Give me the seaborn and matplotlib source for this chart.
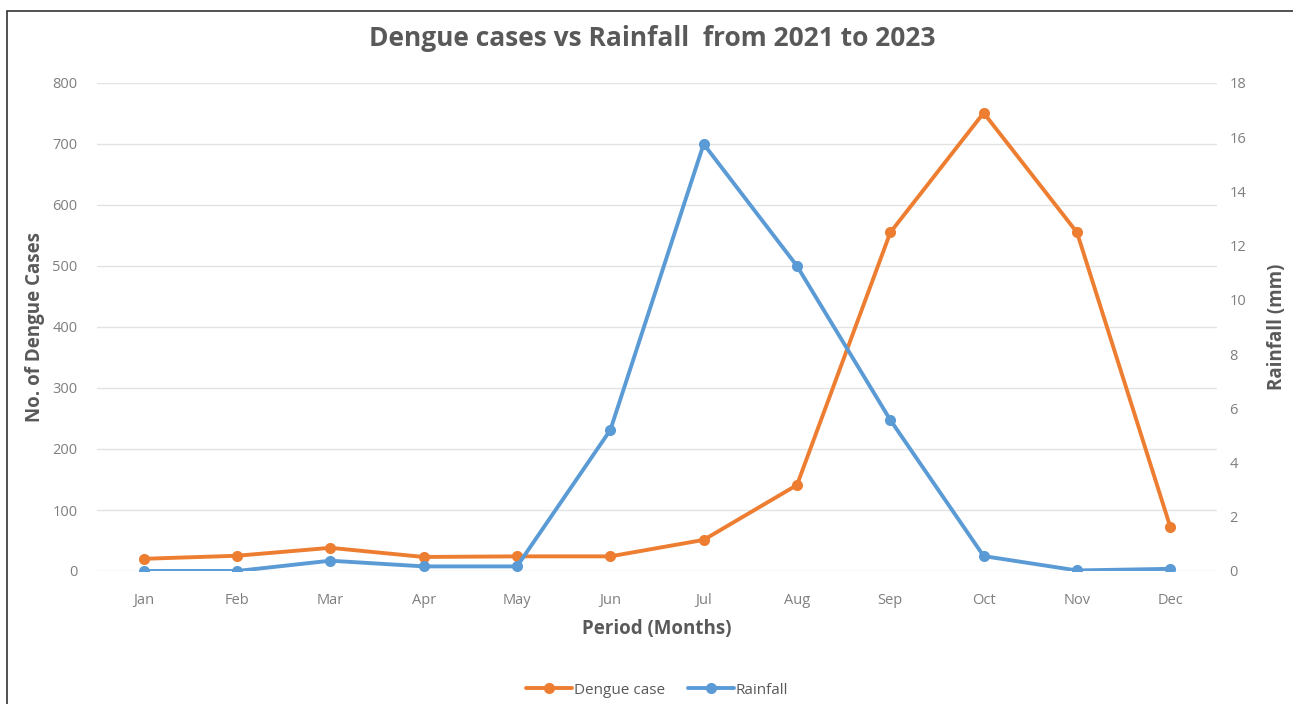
import matplotlib
matplotlib.use("Agg")
import matplotlib.pyplot as plt
import seaborn as sns
import pandas as pd
from matplotlib.lines import Line2D
from matplotlib.patches import Rectangle

months = ["Jan", "Feb", "Mar", "Apr", "May", "Jun", "Jul", "Aug", "Sep", "Oct", "Nov", "Dec"]
dengue_cases = [20, 25, 38, 23, 24, 24, 51, 141, 555, 751, 555, 72]
rainfall_mm = [0.0, 0.0, 0.38, 0.17, 0.17, 5.2, 15.75, 11.25, 5.57, 0.55, 0.02, 0.08]

left_ticks = [0, 100, 200, 300, 400, 500, 600, 700, 800]
right_ticks = [0, 2, 4, 6, 8, 10, 12, 14, 16, 18]

ORANGE = "#ED7D31"
BLUE = "#5B9BD5"
TICK_GREY = "#7f7f7f"
LABEL_GREY = "#595959"
GRID_GREY = "#e3e3e3"

sns.set_theme(style="white")
plt.rcParams["font.family"] = ["Open Sans", "DejaVu Sans"]

df = pd.DataFrame({"month": months, "idx": range(len(months)),
                   "dengue": dengue_cases, "rain": rainfall_mm})

fig = plt.figure(figsize=(12.93, 7.04), dpi=100)
W, H = 1293, 704
ax = fig.add_axes([97 / W, 1 - 571 / H, (1217 - 97) / W, (571 - 83) / H])
ax2 = ax.twinx()

sns.lineplot(data=df, x="idx", y="dengue", ax=ax, color=ORANGE, linewidth=2.8,
             marker="o", markersize=8, markeredgewidth=0, zorder=3)
sns.lineplot(data=df, x="idx", y="rain", ax=ax2, color=BLUE, linewidth=2.8,
             marker="o", markersize=8, markeredgewidth=0, zorder=3)

ax.set_xlim(-0.5, len(months) - 0.5)
ax.set_ylim(0, 800)
ax2.set_ylim(0, 18)
ax.set_yticks(left_ticks)
ax2.set_yticks(right_ticks)
ax.set_xticks(range(len(months)))
ax.set_xticklabels(months)

for a in (ax, ax2):
    for s in a.spines.values():
        s.set_visible(False)
    a.tick_params(length=0, labelsize=10.5, labelcolor=TICK_GREY)
ax.tick_params(axis="x", pad=16)
ax.tick_params(axis="y", pad=14)
ax2.tick_params(axis="y", pad=9)

ax.grid(axis="y", color=GRID_GREY, linewidth=1)
ax.set_axisbelow(True)
ax2.grid(False)

ax.set_xlabel("Period (Months)", fontsize=13.5, fontweight="bold", color=LABEL_GREY, labelpad=8)
ax.set_ylabel("No. of Dengue Cases", fontsize=13.5, fontweight="bold", color=LABEL_GREY, labelpad=5)
ax2.set_ylabel("Rainfall (mm)", fontsize=13.5, fontweight="bold", color=LABEL_GREY, labelpad=15)

fig.text(652 / W, 1 - 38 / H, "Dengue cases vs Rainfall  from 2021 to 2023",
         ha="center", va="center", fontsize=19, fontweight="bold", color=LABEL_GREY)

handles = [Line2D([0], [0], color=ORANGE, lw=2.8, marker="o", markersize=8, markeredgewidth=0),
           Line2D([0], [0], color=BLUE, lw=2.8, marker="o", markersize=8, markeredgewidth=0)]
fig.legend(handles, ["Dengue case", "Rainfall"], loc="center", bbox_to_anchor=(657 / W, 1 - 690 / H),
           ncol=2, frameon=False, fontsize=11, labelcolor=LABEL_GREY, handlelength=3,
           handletextpad=0.1, columnspacing=1.5)

fig.patches.append(Rectangle((7 / W, -0.05), 1.2, 1 - 11 / H + 0.05, transform=fig.transFigure,
                             fill=False, edgecolor="#333333", linewidth=1.2))

fig.savefig("out.png", dpi=100, facecolor="white")
